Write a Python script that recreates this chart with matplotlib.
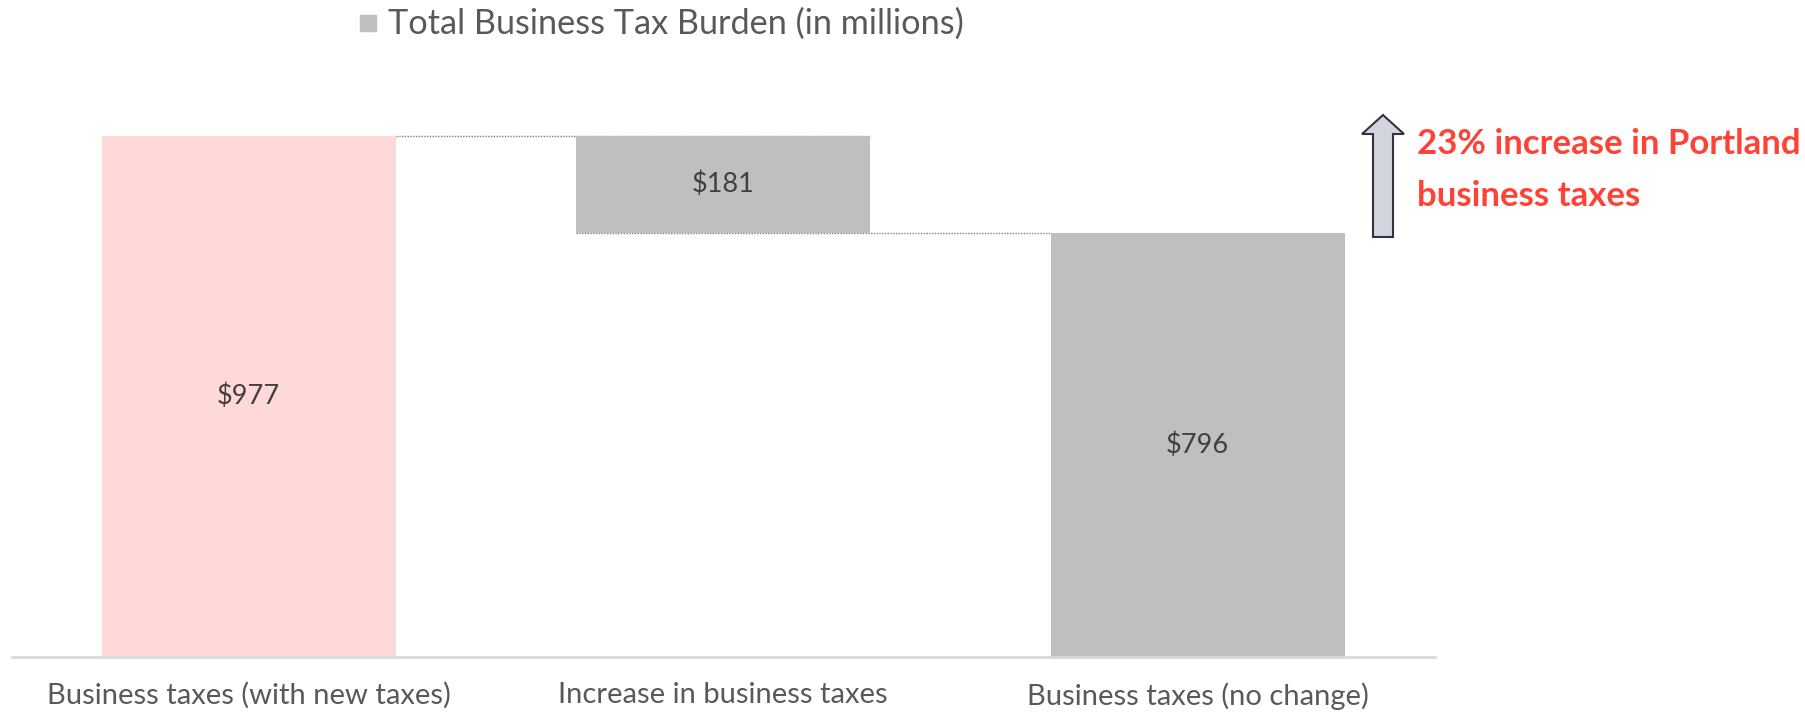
import matplotlib
matplotlib.use("Agg")
from matplotlib import pyplot as plt
from matplotlib.patches import Polygon, Rectangle

categories = ["Business taxes (with new taxes)", "Increase in business taxes", "Business taxes (no change)"]
with_new = 977
increase = 181
no_change = 796
bar_labels = ["$977", "$181", "$796"]
legend_label = "Total Business Tax Burden (in millions)"
note = "23% increase in Portland\nbusiness taxes"

plt.rcParams['font.family'] = ['Lato', 'DejaVu Sans']

fig = plt.figure(figsize=(18.05, 7.14), dpi=100)
W, H = 1805, 714
# axes in pixel coords: left 11.5, right 1435, bottom 657 (from top), top 100
ax = fig.add_axes([11.5 / W, (H - 657) / H, (1435 - 11.5) / W, (657 - 100) / H])

x = [0, 1, 2]
bottoms = [0, no_change, 0]
heights = [with_new, increase, no_change]
colors = ["#ffd9d8", "#bfbfbf", "#bfbfbf"]
ax.bar(x, heights, bottom=bottoms, width=0.62, color=colors, zorder=2)

# connector lines
ax.plot([0.31, 1.31], [with_new, with_new], color="#7f7f7f", lw=1, ls=(0, (1, 1)), zorder=1)
ax.plot([0.69, 1.69], [no_change, no_change], color="#7f7f7f", lw=1, ls=(0, (1, 1)), zorder=1)

txt_col = "#404040"
ax.text(0, with_new / 2, bar_labels[0], ha="center", va="center", fontsize=19.5, color=txt_col)
ax.text(1, no_change + increase / 2, bar_labels[1], ha="center", va="center", fontsize=19.5, color=txt_col)
ax.text(2, no_change / 2, bar_labels[2], ha="center", va="center", fontsize=19.5, color=txt_col)

ax.set_xlim(-0.5, 2.5)
ax.set_ylim(0, 1045)
ax.set_xticks(x)
ax.set_xticklabels(categories, fontsize=21, color="#595959")
ax.tick_params(axis="x", length=0, pad=18)
ax.set_yticks([])
for s in ["top", "right", "left"]:
    ax.spines[s].set_visible(False)
ax.spines["bottom"].set_color("#d9d9d9")
ax.spines["bottom"].set_linewidth(2)

# legend
fig.patches.append(Rectangle((360 / W, 1 - 31 / H), 16 / W, 16 / H, transform=fig.transFigure,
                             color="#bfbfbf"))
fig.text(388 / W, 1 - 24 / H, legend_label, fontsize=24.7, color="#595959", va="center", ha="left")

# arrow
pts = [(1373, 237), (1393, 237), (1393, 134), (1404, 134), (1383, 115), (1362, 134), (1373, 134)]
fig.patches.append(Polygon([(px / W, 1 - py / H) for px, py in pts], closed=True,
                           transform=fig.transFigure, facecolor="#d3d5de", edgecolor="#333340", lw=1.5))

fig.text(1417 / W, 1 - 170 / H, note, fontsize=25, color="#ff4136", fontweight="bold",
         va="center", ha="left", linespacing=1.78)

fig.savefig("out.png", dpi=100)
